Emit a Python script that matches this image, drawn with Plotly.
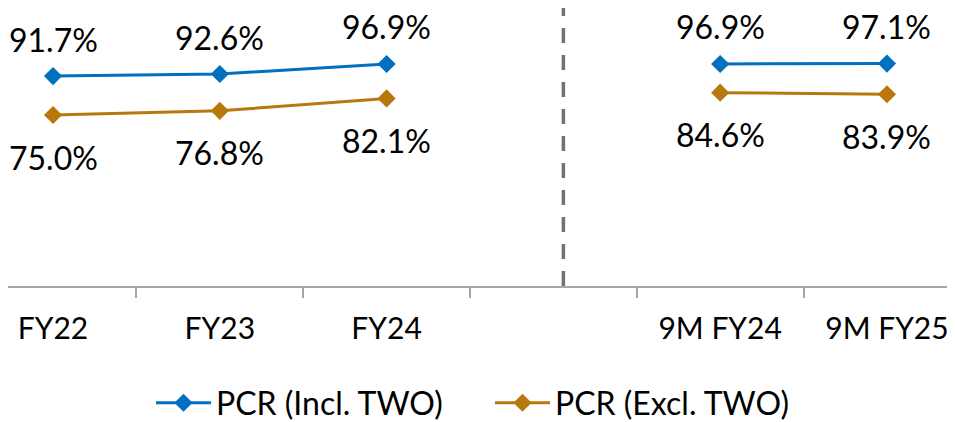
import plotly.graph_objects as go

categories = ["FY22", "FY23", "FY24", " ", "9M FY24", "9M FY25"]
pcr_incl = [91.7, 92.6, 96.9, None, 96.9, 97.1]
pcr_excl = [75.0, 76.8, 82.1, None, 84.6, 83.9]
series_names = ["PCR (Incl. TWO)", "PCR (Excl. TWO)"]

BLUE = "#0070C0"
BROWN = "#B8780C"
FONT = "Lato"
FS = 32

fig = go.Figure()
fig.add_trace(go.Scatter(
    x=categories, y=pcr_incl, name=series_names[0], mode="lines+markers",
    line=dict(color=BLUE, width=3), connectgaps=False,
    marker=dict(symbol="diamond", size=14, color=BLUE),
))
fig.add_trace(go.Scatter(
    x=categories, y=pcr_excl, name=series_names[1], mode="lines+markers",
    line=dict(color=BROWN, width=3), connectgaps=False,
    marker=dict(symbol="diamond", size=14, color=BROWN),
))

annotations = []
for c, v in zip(categories, pcr_incl):
    if v is not None:
        annotations.append(dict(x=c, y=v, text=f"{v:.1f}%", showarrow=False,
                                yshift=37, font=dict(size=FS, color="black", family=FONT)))
for c, v in zip(categories, pcr_excl):
    if v is not None:
        annotations.append(dict(x=c, y=v, text=f"{v:.1f}%", showarrow=False,
                                yshift=-42, font=dict(size=FS, color="black", family=FONT)))

fig.update_layout(
    width=947, height=414,
    margin=dict(l=0, r=0, t=0, b=136, autoexpand=False),
    paper_bgcolor="white", plot_bgcolor="white",
    font=dict(family=FONT, size=FS, color="black"),
    showlegend=True,
    legend=dict(orientation="h", x=0.151, xanchor="left", yref="container", y=0.046,
                yanchor="middle",
                font=dict(size=FS, family=FONT), itemwidth=55, entrywidth=269,
                entrywidthmode="pixels", traceorder="normal"),
    annotations=annotations,
    shapes=[dict(type="line", xref="x", yref="paper", x0=3.06, x1=3.06, y0=0, y1=1.05,
                 line=dict(color="#767171", width=3.5, dash="15px,12px"))],
)
fig.update_xaxes(
    type="category", categoryorder="array", categoryarray=categories,
    range=[-0.270, 5.408], showline=True, linecolor="#A6A6A6", linewidth=2,
    ticks="outside", tickson="boundaries", ticklen=10, tickcolor="#A6A6A6", tickwidth=1.5,
    showgrid=False, zeroline=False, tickfont=dict(size=30, family=FONT, color="black"),
    ticklabelstandoff=15, automargin=False,
)
fig.update_yaxes(range=[1.58, 120.94], visible=False, showgrid=False, zeroline=False,
                 automargin=False)

fig.write_html("out.html")
